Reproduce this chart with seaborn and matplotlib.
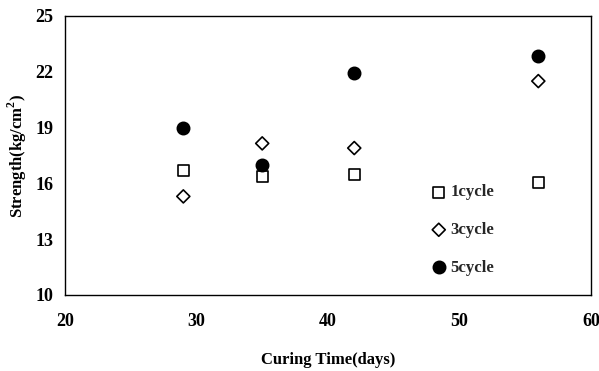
import matplotlib
matplotlib.use("Agg")
import matplotlib.pyplot as plt
import seaborn as sns
import pandas as pd

# Curing times (days) and compressive strength per number of cycles
days = [29, 35, 42, 56]
cycle1 = [16.7, 16.35, 16.5, 16.05]
cycle3 = [15.3, 18.15, 17.9, 21.5]
cycle5 = [19.0, 17.0, 21.95, 22.85]
series_names = ["1cycle", "3cycle", "5cycle"]

x_ticks = [20, 30, 40, 50, 60]
y_ticks = [10, 13, 16, 19, 22, 25]

sns.set_theme(style="white")
plt.rcParams["font.family"] = ["Liberation Serif", "DejaVu Serif"]
plt.rcParams["font.weight"] = "bold"
plt.rcParams["mathtext.fontset"] = "custom"
plt.rcParams["mathtext.rm"] = "Liberation Serif:bold"
plt.rcParams["mathtext.bf"] = "Liberation Serif:bold"

df = pd.DataFrame({
    "days": days * 3,
    "strength": cycle1 + cycle3 + cycle5,
    "series": [n for n in series_names for _ in days],
})

fig = plt.figure(figsize=(5.99, 3.71), dpi=100)
ax = fig.add_axes([0.1085, 0.2049, 0.878, 0.752])

styles = {
    "1cycle": dict(marker="s", facecolors="none", s=62),
    "3cycle": dict(marker="D", facecolors="none", s=44),
    "5cycle": dict(marker="o", facecolors="black", s=78),
}
for name in series_names:
    sub = df[df["series"] == name]
    st = styles[name]
    sns.scatterplot(data=sub, x="days", y="strength", ax=ax,
                    marker=st["marker"], s=st["s"],
                    facecolors=st["facecolors"], edgecolor="black",
                    linewidth=1.2, label=name, zorder=3)

ax.set_xlim(20, 60)
ax.set_ylim(10, 25)
ax.set_xticks(x_ticks)
ax.set_yticks(y_ticks)
ax.tick_params(axis="both", direction="in", length=3, width=0.8,
               labelsize=13, colors="black")
ax.tick_params(axis="x", pad=13)
ax.tick_params(axis="y", pad=8.5)
for lab in ax.get_xticklabels() + ax.get_yticklabels():
    lab.set_fontweight("bold")

for sp in ax.spines.values():
    sp.set_color("black")
    sp.set_linewidth(1.0)

ax.set_xlabel("Curing Time(days)", fontsize=12, fontweight="bold",
              color="black", labelpad=16)
ax.set_ylabel("Strength(kg/cm$^2$)", fontsize=12, fontweight="bold",
              color="black")
ax.yaxis.set_label_coords(-0.069, 0.5)

leg = ax.legend(loc="upper left", bbox_to_anchor=(0.679, 0.42), frameon=False,
                prop={"family": "Liberation Serif", "weight": "bold", "size": 12},
                handletextpad=0.1, labelspacing=1.3, handlelength=1.2,
                borderaxespad=0)

fig.savefig("out.png", dpi=100)
